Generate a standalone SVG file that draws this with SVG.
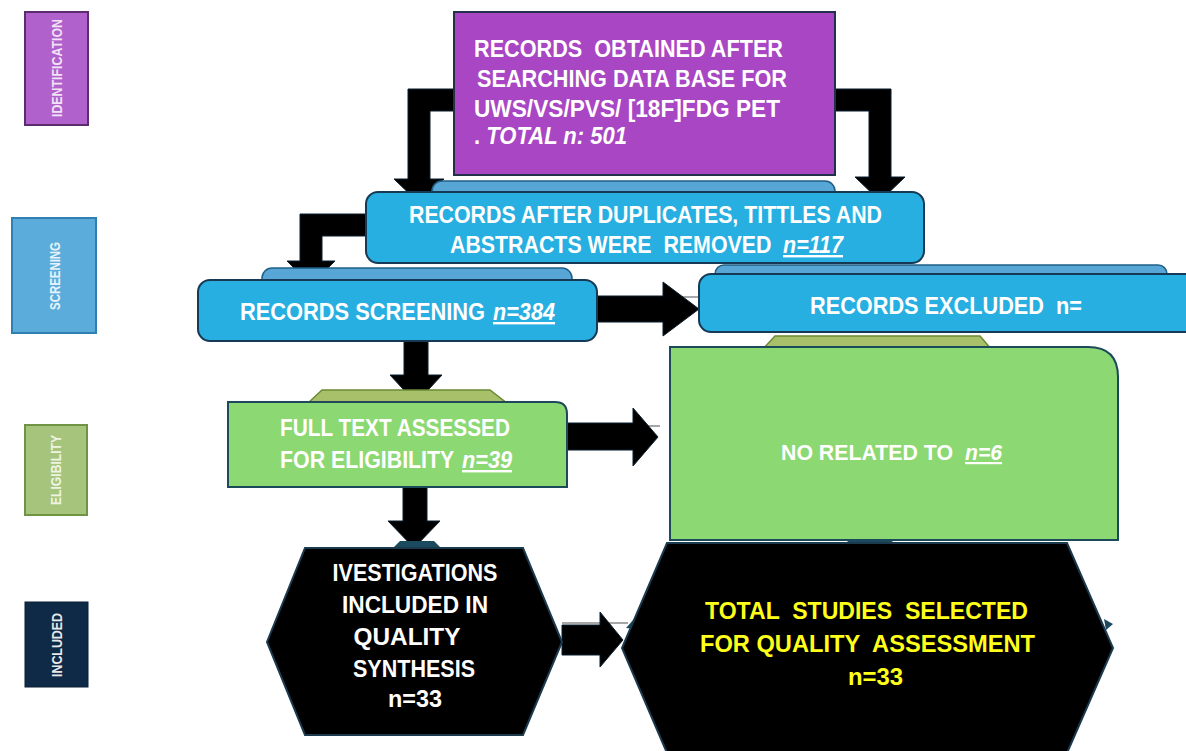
<svg xmlns="http://www.w3.org/2000/svg" width="1186" height="751" viewBox="0 0 1186 751">
<style>
.t{font-family:"Liberation Sans",Arial,sans-serif;font-weight:bold;fill:#ffffff}
.side{font-family:"Liberation Sans",Arial,sans-serif;font-size:15px;font-weight:bold;text-anchor:middle}
.blue{fill:#27AFE1;stroke:#163a55;stroke-width:2}
.btab{fill:#58A6D6;stroke:#1f5f86;stroke-width:1.5}
.green{fill:#8CD873;stroke:#1d4a5a;stroke-width:2}
.otab{fill:#A8C06A;stroke:#6b8a35;stroke-width:1.5}
.hex{fill:#000000;stroke:#1b3a4d;stroke-width:2}
.arr{fill:#000000;stroke:#0b1f2e;stroke-width:1}
.thin{stroke:#8a8a8a;stroke-width:1.5;fill:none}
.u{text-decoration:underline;font-style:italic}
.y{fill:#FFFF1A}
</style>

<g id="labels">
  <g id="lab-identification">
    <rect x="25" y="12" width="63" height="113" fill="#B061CC" stroke="#5B2C6F" stroke-width="2"/>
    <text class="side" fill="#f3e2f6" transform="translate(62,68) rotate(-90)" textLength="98" lengthAdjust="spacingAndGlyphs">IDENTIFICATION</text>
  </g>
  <g id="lab-screening">
    <rect x="12" y="218" width="84" height="115" fill="#5CACDB" stroke="#2F7FB0" stroke-width="2"/>
    <text class="side" fill="#e6f3fa" transform="translate(60,276) rotate(-90)" textLength="68" lengthAdjust="spacingAndGlyphs">SCREENING</text>
  </g>
  <g id="lab-eligibility">
    <rect x="25" y="425" width="62" height="90" fill="#A6C47C" stroke="#6F9444" stroke-width="2"/>
    <text class="side" fill="#eef4e2" transform="translate(61,470) rotate(-90)" textLength="70" lengthAdjust="spacingAndGlyphs">ELIGIBILITY</text>
  </g>
  <g id="lab-included">
    <rect x="25" y="602" width="63" height="85" fill="#0E2A47" stroke="#0a1f35" stroke-width="1"/>
    <text class="side" fill="#e8e8e8" transform="translate(62,645) rotate(-90)" textLength="64" lengthAdjust="spacingAndGlyphs">INCLUDED</text>
  </g>
</g>

<g id="connectors">
  <line class="thin" x1="597" y1="297" x2="700" y2="297"/>
  <line class="thin" x1="567" y1="426" x2="660" y2="426"/>
  <line class="thin" x1="562" y1="623" x2="628" y2="623"/>
  <path class="arr" d="M454,89 L408,89 L408,179 L394,179 L419,203 L444,179 L430,179 L430,111 L454,111 Z"/>
  <path class="arr" d="M835,89 L891,89 L891,177 L905,177 L880,201 L855,177 L869,177 L869,111 L835,111 Z"/>
  <path class="arr" d="M366,214 L300,214 L300,261 L287,261 L311,285 L335,261 L322,261 L322,236 L366,236 Z"/>
  <path class="arr" d="M597,296 L663,296 L663,282 L699,309 L663,336 L663,322 L597,322 Z"/>
  <path class="arr" d="M404,341 L428,341 L428,375 L442,375 L416,403 L390,375 L404,375 Z"/>
  <path class="arr" d="M567,423 L633,423 L633,408 L658,437 L633,466 L633,450 L567,450 Z"/>
  <path class="arr" d="M403,487 L427,487 L427,521 L440,521 L414,548 L388,521 L403,521 Z"/>
  <path class="arr" d="M562,625 L600,625 L600,612 L623,640 L600,667 L600,655 L562,655 Z"/>
</g>

<g id="node-blue-tabs">
  <rect class="btab" x="432" y="181" width="403" height="30" rx="10"/>
  <rect class="btab" x="262" y="268" width="310" height="30" rx="10"/>
  <rect class="btab" x="715" y="265" width="452" height="25" rx="9"/>
</g>

<g id="node-records-obtained">
  <rect x="454" y="12" width="381" height="163" fill="#A846C3" stroke="#22304a" stroke-width="2"/>
  <text class="t" font-size="24" x="474" y="57" textLength="309" lengthAdjust="spacingAndGlyphs" xml:space="preserve">RECORDS  OBTAINED AFTER</text>
  <text class="t" font-size="24" x="477" y="87" textLength="310" lengthAdjust="spacingAndGlyphs">SEARCHING DATA BASE FOR</text>
  <text class="t" font-size="24" x="474" y="117" textLength="306" lengthAdjust="spacingAndGlyphs">UWS/VS/PVS/ [18F]FDG PET</text>
  <text class="t" font-size="24" x="474" y="144" textLength="153" lengthAdjust="spacingAndGlyphs">. <tspan font-style="italic">TOTAL n: 501</tspan></text>
</g>

<g id="node-after-duplicates">
  <rect class="blue" x="366" y="192" width="558" height="71" rx="12"/>
  <text class="t" font-size="24" x="409" y="223" textLength="473" lengthAdjust="spacingAndGlyphs">RECORDS AFTER DUPLICATES, TITTLES AND</text>
  <text class="t" font-size="24" transform="translate(450,253) scale(0.89,1)" xml:space="preserve">ABSTRACTS WERE  REMOVED</text>
  <text class="t u" font-size="24" x="783" y="253" textLength="60" lengthAdjust="spacingAndGlyphs">n=117</text>
</g>

<g id="node-screening">
  <rect class="blue" x="198" y="280" width="399" height="61" rx="12"/>
  <text class="t" font-size="24" transform="translate(240,320) scale(0.91,1)">RECORDS SCREENING</text>
  <text class="t u" font-size="24" x="493" y="320" textLength="62" lengthAdjust="spacingAndGlyphs">n=384</text>
</g>

<g id="node-excluded">
  <rect class="blue" x="699" y="274" width="510" height="58" rx="12"/>
  <text class="t" font-size="24" x="810" y="314" textLength="272" lengthAdjust="spacingAndGlyphs" xml:space="preserve">RECORDS EXCLUDED  n=</text>
</g>

<g id="node-no-related">
  <path class="otab" d="M762,350 L775,336 L980,336 L992,350 Z"/>
  <path class="green" d="M670,347 H1088 Q1118,347 1118,377 V540 H670 Z"/>
  <text class="t" font-size="22" x="781" y="460" textLength="172" lengthAdjust="spacingAndGlyphs">NO RELATED TO</text>
  <text class="t u" font-size="22" x="965" y="460" textLength="37" lengthAdjust="spacingAndGlyphs">n=6</text>
</g>

<g id="node-full-text">
  <path class="otab" d="M307,404 L322,390 L490,390 L508,404 Z"/>
  <path class="green" d="M228,402 H555 Q567,402 567,414 V487 H228 Z"/>
  <text class="t" font-size="24" x="280" y="436" textLength="230" lengthAdjust="spacingAndGlyphs">FULL TEXT ASSESSED</text>
  <text class="t" font-size="24" transform="translate(280,468) scale(0.89,1)">FOR ELIGIBILITY</text>
  <text class="t u" font-size="24" x="462" y="468" textLength="50" lengthAdjust="spacingAndGlyphs">n=39</text>
</g>

<g id="node-investigations">
  <path d="M393,548 L400,541 L434,541 L441,548 Z" fill="#1b4a5e"/>
  <polygon class="hex" points="305,548 523,548 562,642 523,735 305,735 267,642"/>
  <g class="t" font-size="23" text-anchor="middle">
    <text x="415" y="581" textLength="165" lengthAdjust="spacingAndGlyphs">IVESTIGATIONS</text>
    <text x="415" y="613" textLength="146" lengthAdjust="spacingAndGlyphs">INCLUDED IN</text>
    <text x="407" y="645" textLength="107" lengthAdjust="spacingAndGlyphs">QUALITY</text>
    <text x="414" y="677" textLength="122" lengthAdjust="spacingAndGlyphs">SYNTHESIS</text>
    <text x="415" y="707" textLength="54" lengthAdjust="spacingAndGlyphs">n=33</text>
  </g>
</g>

<g id="node-total-selected">
  <path d="M845,543 L852,539 L888,539 L895,543 Z" fill="#1b4a5e"/>
  <path d="M626,628 L634,619 L636,629 Z" fill="#1b4a5e"/>
  <path d="M1104,619 L1113,624 L1106,630 Z" fill="#1b4a5e"/>
  <polygon class="hex" points="667,543 1067,543 1113,648 1067,753 667,753 622,648"/>
  <text class="t y" font-size="24" x="705" y="619" textLength="323" lengthAdjust="spacingAndGlyphs" xml:space="preserve">TOTAL  STUDIES  SELECTED</text>
  <text class="t y" font-size="24" x="700" y="652" textLength="335" lengthAdjust="spacingAndGlyphs" xml:space="preserve">FOR QUALITY  ASSESSMENT</text>
  <text class="t y" font-size="24" x="848" y="685" textLength="55" lengthAdjust="spacingAndGlyphs">n=33</text>
</g>
</svg>
